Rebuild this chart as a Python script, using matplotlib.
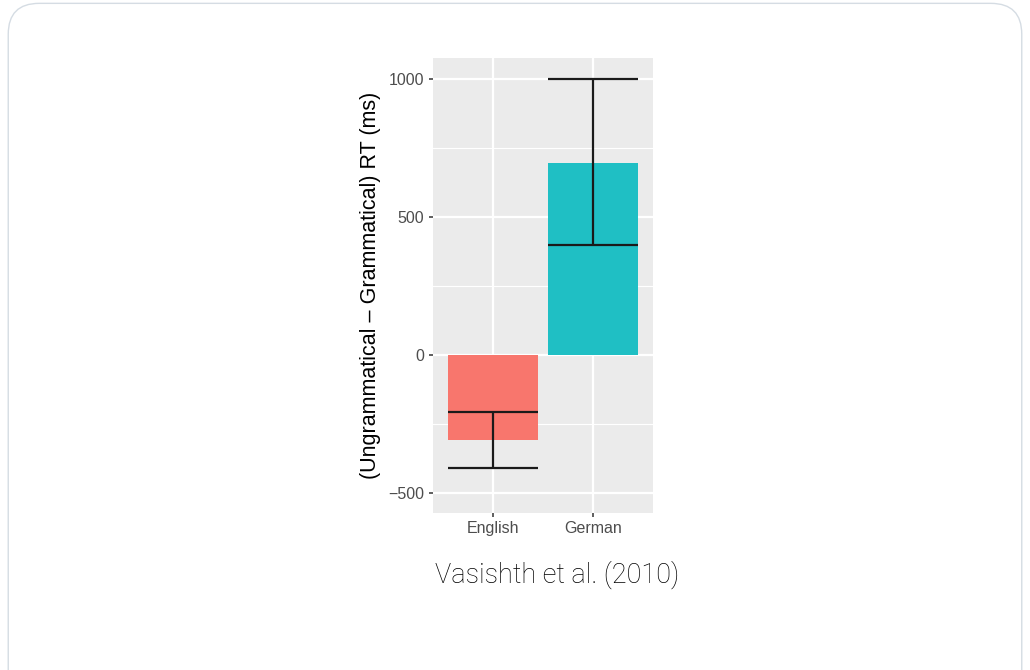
import matplotlib
matplotlib.use("Agg")
import matplotlib.pyplot as plt
from matplotlib.patches import FancyBboxPatch

languages = ["English", "German"]
effect_ms = [-308, 697]
ci_lower = [-407, 398]
ci_upper = [-206, 1000]
bar_colors = ["#F8766D", "#1FBFC4"]
y_ticks = [-500, 0, 500, 1000]
y_minor = [-250, 250, 750]
source = "Vasishth et al. (2010)"

plt.rcParams["font.family"] = ["Liberation Sans", "DejaVu Sans"]

fig = plt.figure(figsize=(10.3, 6.7), dpi=100)

# slide frame with rounded corners, drawn behind the plot
frame = FancyBboxPatch((0.008, -0.06), 0.984, 1.055, boxstyle="round,pad=0,rounding_size=0.03",
                       transform=fig.transFigure, facecolor="none", edgecolor="#D5DCE3",
                       linewidth=1.0, mutation_aspect=1030 / 670, zorder=-1)
fig.patches.append(frame)

ax = fig.add_axes([0.4201, 0.2348, 0.2139, 0.6786])
ax.set_facecolor("#EBEBEB")
for spine in ax.spines.values():
    spine.set_visible(False)

x = list(range(1, len(languages) + 1))
ax.bar(x, effect_ms, width=0.9, color=bar_colors, zorder=2)
ax.vlines(x, ci_lower, ci_upper, color="#1A1A1A", linewidth=1.6, zorder=3)
ax.hlines(ci_lower, [v - 0.45 for v in x], [v + 0.45 for v in x], color="#1A1A1A", linewidth=1.6, zorder=3)
ax.hlines(ci_upper, [v - 0.45 for v in x], [v + 0.45 for v in x], color="#1A1A1A", linewidth=1.6, zorder=3)

ax.set_xlim(0.4, 2.6)
ax.set_ylim(-570, 1076)
ax.set_xticks(x)
ax.set_xticklabels(languages)
ax.set_yticks(y_ticks)
ax.set_yticklabels(["\u2212500", "0", "500", "1000"])
ax.set_yticks(y_minor, minor=True)
ax.grid(True, which="major", color="white", linewidth=1.6, zorder=0)
ax.grid(True, which="minor", axis="y", color="white", linewidth=0.8, zorder=0)
ax.set_axisbelow(True)
ax.tick_params(which="major", length=3, width=1.1, color="#333333", labelcolor="#4D4D4D",
               labelsize=11.5, pad=3)
ax.tick_params(which="minor", length=0)

ax.set_ylabel("(Ungrammatical \u2013 Grammatical) RT (ms)", fontsize=15.5, color="black", labelpad=5)

fig.text(0.541, 0.142, source, ha="center", va="center", fontsize=19.5,
         family=["Roboto", "DejaVu Sans"], fontweight="light", color="#000000")

fig.savefig("out.png", dpi=100)
